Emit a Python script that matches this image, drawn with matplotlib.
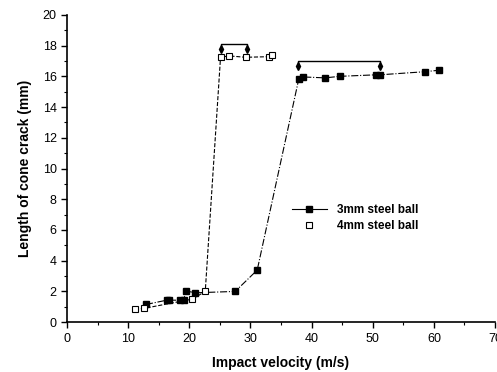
import matplotlib
matplotlib.use("Agg")
import matplotlib.pyplot as plt
from matplotlib.lines import Line2D
from matplotlib.ticker import MultipleLocator

plt.rcParams['font.family'] = ['Liberation Sans', 'DejaVu Sans']

# 3mm steel ball (filled squares)
v3 = [12.9, 16.3, 16.7, 18.4, 19.1, 19.4, 20.9, 27.5, 31.1, 37.9, 38.6, 42.2, 44.6, 50.6, 51.2, 58.5, 60.9]
L3 = [1.15, 1.43, 1.43, 1.43, 1.43, 2.04, 1.91, 2.0, 3.39, 15.83, 15.96, 15.9, 16.0, 16.1, 16.1, 16.3, 16.4]

# 4mm steel ball (open squares)
v4 = [11.1, 12.5, 20.5, 22.6, 25.1, 26.5, 29.2, 33.1, 33.5]
L4 = [0.83, 0.89, 1.5, 2.0, 17.24, 17.33, 17.24, 17.28, 17.4]

# bracket annotations (x from, x to, height)
br4 = (25.1, 29.4, 18.1)
br3 = (37.85, 51.2, 17.0)

fig = plt.figure(figsize=(4.97, 3.72), dpi=100)
ax = fig.add_axes([0.135, 0.134, 0.861, 0.826])

ax.plot(v3, L3, color='black', linestyle='-.', linewidth=0.8,
        marker='s', markersize=5, markerfacecolor='black', markeredgecolor='black')
ax.plot(v4, L4, color='black', linestyle='--', linewidth=0.8,
        marker='s', markersize=5, markerfacecolor='white', markeredgecolor='black',
        markeredgewidth=0.8)

for x0, x1, h in (br4, br3):
    ax.plot([x0, x0, x1, x1], [h - 0.35, h, h, h - 0.35], color='black', linewidth=1.0)
    ax.plot([x0, x1], [h - 0.3, h - 0.3], linestyle='none', marker='d',
            markersize=4, color='black')

ax.set_xlim(0, 70)
ax.set_ylim(0, 20)
ax.xaxis.set_major_locator(MultipleLocator(10))
ax.xaxis.set_minor_locator(MultipleLocator(5))
ax.yaxis.set_major_locator(MultipleLocator(2))
ax.yaxis.set_minor_locator(MultipleLocator(1))
ax.tick_params(which='major', direction='out', length=4, width=1.0, labelsize=9)
ax.tick_params(which='minor', direction='out', length=2.5, width=0.8)
ax.spines['top'].set_visible(False)
ax.spines['right'].set_visible(False)
ax.spines['left'].set_linewidth(1.2)
ax.spines['bottom'].set_linewidth(1.2)

ax.set_xlabel('Impact velocity (m/s)', fontsize=10, fontweight='bold', labelpad=8)
ax.set_ylabel('Length of cone crack (mm)', fontsize=10, fontweight='bold', labelpad=8)

handles = [
    Line2D([], [], color='black', linestyle='-', linewidth=0.8, marker='s', markersize=5,
           markerfacecolor='black'),
    Line2D([], [], color='black', linestyle='none', marker='s', markersize=5,
           markerfacecolor='white', markeredgewidth=0.8),
]
ax.legend(handles, ['3mm steel ball', '4mm steel ball'], loc='upper left',
          bbox_to_anchor=(0.5, 0.42), frameon=False, handlelength=3,
          prop={'size': 8.5, 'weight': 'bold'}, labelspacing=0.4)

fig.savefig('out.png', dpi=100)
